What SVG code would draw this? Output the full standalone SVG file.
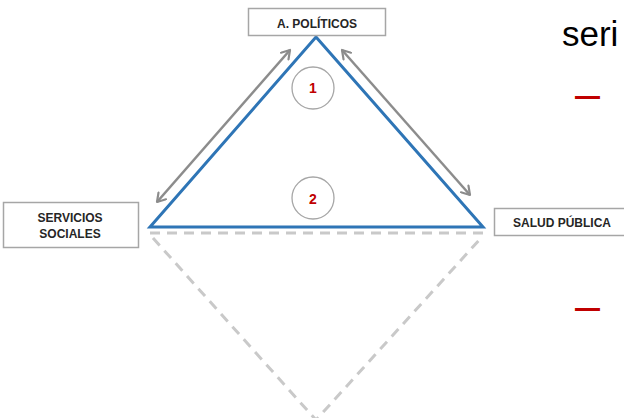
<svg xmlns="http://www.w3.org/2000/svg" width="624" height="418" viewBox="0 0 624 418">
  <defs>
    <style>
      .box { fill: #ffffff; stroke: #a6a6a6; stroke-width: 1.5; }
      .lbl { font-family: "Liberation Sans", Arial, sans-serif; font-weight: bold; font-size: 12px; fill: #262626; text-anchor: middle; }
      .num { font-family: "Liberation Sans", Arial, sans-serif; font-weight: bold; font-size: 14px; fill: #c00000; text-anchor: middle; }
      .ring { fill: #ffffff; stroke: #a6a6a6; stroke-width: 1.3; }
      .tri { fill: none; stroke: #2e75b6; stroke-width: 3; stroke-linejoin: miter; }
      .ghost { fill: none; stroke: #c9c9c9; stroke-width: 3; stroke-dasharray: 10 7; }
      .link { fill: none; stroke: #8c8c8c; stroke-width: 2.5; }
      .bullet { font-family: "Liberation Sans", Arial, sans-serif; font-size: 45px; fill: #c00000; }
    </style>
    <marker id="head-end" viewBox="0 0 12 12" refX="10" refY="6" markerWidth="12" markerHeight="12" orient="auto" markerUnits="userSpaceOnUse">
      <polyline points="2,1 10,6 2,11" fill="none" stroke="#8c8c8c" stroke-width="2.2" stroke-linecap="round" stroke-linejoin="round"/>
    </marker>
    <marker id="head-start" viewBox="0 0 12 12" refX="2" refY="6" markerWidth="12" markerHeight="12" orient="auto" markerUnits="userSpaceOnUse">
      <polyline points="10,1 2,6 10,11" fill="none" stroke="#8c8c8c" stroke-width="2.2" stroke-linecap="round" stroke-linejoin="round"/>
    </marker>
  </defs>

  <!-- dashed mirror triangle below the base -->
  <g id="mirror">
    <polyline class="ghost" points="150,233 483,233"/>
    <polyline class="ghost" points="153,238 316,420 481,238"/>
  </g>

  <!-- main triangle -->
  <g id="triangle">
    <polygon class="tri" points="316,37 483,227 150,227"/>
  </g>

  <!-- two-way connectors -->
  <g id="connectors">
    <line class="link" x1="157" y1="202" x2="290" y2="50" marker-start="url(#head-start)" marker-end="url(#head-end)"/>
    <line class="link" x1="342" y1="50" x2="470" y2="195" marker-start="url(#head-start)" marker-end="url(#head-end)"/>
  </g>

  <g id="node-politicos">
    <rect class="box" x="248.5" y="8.5" width="137" height="27"/>
    <text class="lbl" x="317" y="27.5">A. POLÍTICOS</text>
  </g>

  <g id="node-servicios">
    <rect class="box" x="3.5" y="202.5" width="135" height="45"/>
    <text class="lbl" x="70" y="221.5">SERVICIOS</text>
    <text class="lbl" x="70" y="237.5">SOCIALES</text>
  </g>

  <g id="node-salud">
    <rect class="box" x="494.5" y="208.5" width="140" height="27"/>
    <text class="lbl" x="562" y="226.5">SALUD PÚBLICA</text>
  </g>

  <g id="marker-1">
    <circle class="ring" cx="313" cy="88" r="21"/>
    <text class="num" x="313" y="93">1</text>
  </g>

  <g id="marker-2">
    <circle class="ring" cx="313" cy="198" r="21"/>
    <text class="num" x="313" y="204">2</text>
  </g>

  <!-- slide text on the right edge -->
  <text x="562" y="46" font-family="Liberation Sans, Arial, sans-serif" font-size="35" fill="#000000">seri</text>
  <text class="bullet" x="575" y="109">–</text>
  <text class="bullet" x="575" y="321">–</text>
</svg>
